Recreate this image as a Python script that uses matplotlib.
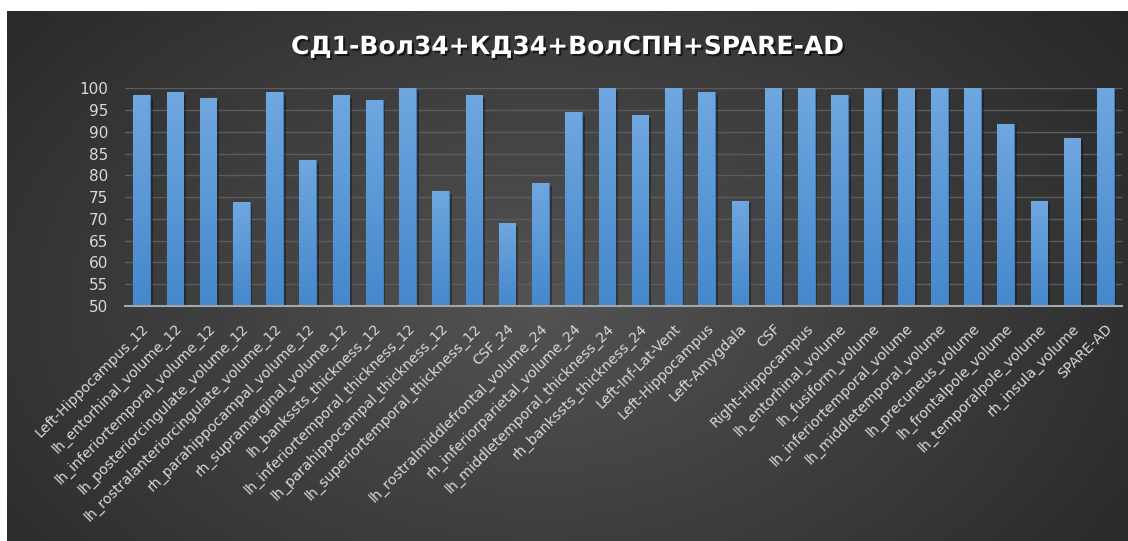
import numpy as np
import matplotlib.pyplot as plt
import matplotlib.patheffects as pe
from matplotlib.colors import LinearSegmentedColormap

# feature sets and the score of each one
labels = ['Left-Hippocampus_12', 'lh_entorhinal_volume_12', 'lh_inferiortemporal_volume_12',
          'lh_posteriorcingulate_volume_12', 'lh_rostralanteriorcingulate_volume_12',
          'rh_parahippocampal_volume_12', 'rh_supramarginal_volume_12', 'lh_bankssts_thickness_12',
          'lh_inferiortemporal_thickness_12', 'lh_parahippocampal_thickness_12',
          'lh_superiortemporal_thickness_12', 'CSF_24', 'lh_rostralmiddlefrontal_volume_24',
          'rh_inferiorparietal_volume_24', 'lh_middletemporal_thickness_24', 'rh_bankssts_thickness_24',
          'Left-Inf-Lat-Vent', 'Left-Hippocampus', 'Left-Amygdala', 'CSF', 'Right-Hippocampus',
          'lh_entorhinal_volume', 'lh_fusiform_volume', 'lh_inferiortemporal_volume',
          'lh_middletemporal_volume', 'lh_precuneus_volume', 'lh_frontalpole_volume',
          'lh_temporalpole_volume', 'rh_insula_volume', 'SPARE-AD']
values = [98.4, 99.1, 97.7, 73.8, 99.1, 83.5, 98.4, 97.4, 100, 76.3,
          98.4, 69.0, 78.3, 94.6, 100, 93.9, 100, 99.1, 74.2, 100,
          100, 98.4, 100, 100, 100, 100, 91.9, 74.2, 88.7, 100]
yticks = list(range(50, 101, 5))
title = 'СД1-Вол34+КД34+ВолСПН+SPARE-AD'

W, H = 1128, 541
fig = plt.figure(figsize=(W / 100, H / 100), dpi=100, facecolor='white')

# dark radial background
bg = fig.add_axes([7 / W, 0, 1 - 7 / W, 1 - 11 / H])
bg.axis('off')
yy, xx = np.mgrid[0:200, 0:400]
r = np.sqrt(((xx - 190) / 200) ** 2 + ((yy - 110) / 140) ** 2)
shade = np.clip(0.325 - 0.13 * r, 0, 1)
bg.imshow(np.dstack([shade, shade, shade]), aspect='auto', extent=[0, 1, 0, 1])
bg.set_xlim(0, 1)
bg.set_ylim(0, 1)

ax = fig.add_axes([125 / W, (H - 306) / H, (1122 - 125) / W, (306 - 88.3) / H])
ax.patch.set_alpha(0)
x = np.arange(len(labels))

blue = LinearSegmentedColormap.from_list('bar', ['#4588cc', '#6fa7df'])
grad = np.linspace(0, 1, 100).reshape(-1, 1)
bars = ax.bar(x, np.array(values) - 50, bottom=50, width=0.5, color='#5b9bd5',
              edgecolor='#3f7fbf', linewidth=0.8, zorder=3,
              path_effects=[pe.withSimplePatchShadow(offset=(2, -2), shadow_rgbFace='black', alpha=0.35)])
for b in bars:
    x0, y0 = b.get_x(), b.get_y()
    im = ax.imshow(grad, cmap=blue, origin='lower', aspect='auto', zorder=3.5,
                   extent=[x0, x0 + b.get_width(), y0, y0 + b.get_height()])
    im.set_clip_path(b)
ax.set_xlim(-0.5, len(labels) - 0.5)
ax.set_ylim(50, 100)

ax.set_yticks(yticks)
ax.yaxis.grid(True, color='#5c5c5c', linewidth=1)
ax.set_axisbelow(True)
for s in ['top', 'right', 'left']:
    ax.spines[s].set_visible(False)
ax.spines['bottom'].set_color('#a6a6a6')
ax.spines['bottom'].set_linewidth(1.5)
ax.spines['bottom'].set_zorder(5)
ax.tick_params(axis='both', length=0, colors='#d9d9d9')
ax.tick_params(axis='y', pad=12, labelsize=11)
ax.tick_params(axis='x', pad=11)
ax.set_xticks(x)
ax.set_xticklabels(labels, rotation=45, ha='right', rotation_mode='anchor', fontsize=10.2)

fig.text(0.503, 1 - 47 / H, title, ha='center', va='center', color='white',
         fontsize=18, fontweight='bold',
         path_effects=[pe.withSimplePatchShadow(offset=(1.5, -1.5), shadow_rgbFace='black', alpha=0.6)])

fig.savefig('out.png', dpi=100, facecolor='white')
